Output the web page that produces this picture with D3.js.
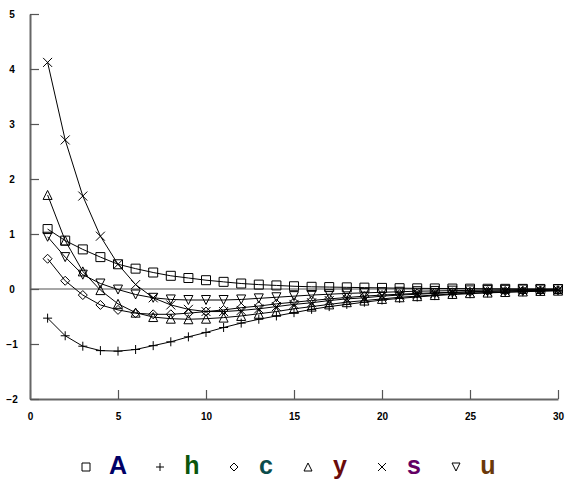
<!DOCTYPE html>
<html><head><meta charset="utf-8">
<script src="https://cdn.jsdelivr.net/npm/d3@7"></script>
<style>body{margin:0;background:#fff}svg{display:block}</style>
</head><body>
<script>
const xs = d3.range(1, 31);
const seriesNames = ["A", "h", "c", "y", "s", "u"];
const seriesSymbols = ["square", "plus", "diamond", "triangle", "cross", "tridown"];
const seriesColors = ["#000066", "#0b560b", "#0b4c4c", "#6a0a0a", "#640064", "#6a380a"];
const valsA = [1.09,0.88,0.72,0.58,0.45,0.37,0.30,0.24,0.20,0.16,0.13,0.10,0.08,0.065,0.05,0.04,0.035,0.03,0.025,0.02,0.015,0.012,0.01,0.008,0.006,0.004,0.003,0.002,0.001,0];
const valsH = [-0.53,-0.85,-1.04,-1.12,-1.13,-1.10,-1.03,-0.96,-0.87,-0.79,-0.70,-0.62,-0.55,-0.49,-0.43,-0.37,-0.32,-0.28,-0.24,-0.20,-0.17,-0.145,-0.12,-0.10,-0.085,-0.07,-0.06,-0.05,-0.04,-0.03];
const valsC = [0.55,0.15,-0.11,-0.29,-0.38,-0.44,-0.46,-0.46,-0.44,-0.41,-0.38,-0.34,-0.31,-0.27,-0.24,-0.21,-0.18,-0.155,-0.13,-0.11,-0.095,-0.08,-0.07,-0.06,-0.05,-0.04,-0.035,-0.03,-0.025,-0.02];
const valsY = [1.71,0.88,0.32,-0.02,-0.27,-0.43,-0.51,-0.54,-0.55,-0.54,-0.52,-0.49,-0.45,-0.41,-0.36,-0.32,-0.28,-0.24,-0.21,-0.18,-0.15,-0.13,-0.11,-0.09,-0.075,-0.065,-0.055,-0.045,-0.035,-0.03];
const valsS = [4.12,2.71,1.69,0.96,0.45,0.08,-0.16,-0.29,-0.37,-0.41,-0.41,-0.39,-0.36,-0.32,-0.28,-0.25,-0.21,-0.18,-0.16,-0.13,-0.11,-0.095,-0.08,-0.065,-0.055,-0.045,-0.035,-0.03,-0.025,-0.02];
const valsU = [0.95,0.58,0.26,0.10,-0.01,-0.10,-0.16,-0.19,-0.20,-0.20,-0.20,-0.19,-0.17,-0.15,-0.13,-0.11,-0.095,-0.08,-0.07,-0.06,-0.05,-0.04,-0.035,-0.03,-0.025,-0.02,-0.015,-0.01,-0.01,-0.005];
const allVals = [valsA, valsH, valsC, valsY, valsS, valsU];
const xTicks = [0,5,10,15,20,25,30];
const yTicks = [-2,-1,0,1,2,3,4,5];

const W = 568, H = 485;
const svg = d3.select("body").append("svg").attr("width", W).attr("height", H);
const x = d3.scaleLinear().domain([0, 30]).range([30, 558]);
const y = d3.scaleLinear().domain([-2, 5]).range([399, 14]);

// zero line
svg.append("line").attr("x1", x(0)).attr("x2", x(30)).attr("y1", y(0)).attr("y2", y(0))
  .attr("stroke", "#8a8a8a").attr("stroke-width", 1.5);

// axes
const xAxis = svg.append("g").attr("transform", `translate(0,${y(-2)})`)
  .call(d3.axisBottom(x).tickValues(xTicks).tickFormat(d3.format("d")).tickSizeInner(-9).tickSizeOuter(0).tickPadding(14));
const yAxis = svg.append("g").attr("transform", `translate(${x(0)},0)`)
  .call(d3.axisLeft(y).tickValues(yTicks).tickFormat(d3.format("d")).tickSizeInner(-9).tickSizeOuter(0).tickPadding(15));
[xAxis, yAxis].forEach(g => {
  g.select(".domain").attr("stroke", "#666").attr("stroke-width", 2);
  g.selectAll(".tick line").attr("stroke", "#555").attr("stroke-width", 1.2);
  g.selectAll("text").attr("font-family", "Liberation Sans, Arial, sans-serif")
    .attr("font-weight", "bold").attr("font-size", 10).attr("fill", "#000");
});
yAxis.selectAll("text").attr("text-anchor", "middle").attr("dx", "-3");

function symPath(type, s) {
  const h = s / 2;
  switch (type) {
    case "square": return `M${-h},${-h}h${s}v${s}h${-s}Z`;
    case "plus": return `M${-h},0H${h}M0,${-h}V${h}`;
    case "diamond": return `M0,${-h}L${h},0L0,${h}L${-h},0Z`;
    case "triangle": return `M0,${-h}L${h},${h}L${-h},${h}Z`;
    case "cross": return `M${-h},${-h}L${h},${h}M${h},${-h}L${-h},${h}`;
    case "tridown": return `M${-h},${-h}L${h},${-h}L0,${h}Z`;
  }
}

const line = d3.line().x((d, i) => x(xs[i])).y(d => y(d));
allVals.forEach((vals, si) => {
  const g = svg.append("g");
  g.append("path").attr("d", line(vals)).attr("fill", "none").attr("stroke", "#000").attr("stroke-width", 1);
  g.selectAll("path.m").data(vals).enter().append("path").attr("class", "m")
    .attr("transform", (d, i) => `translate(${x(xs[i])},${y(d)})`)
    .attr("d", symPath(seriesSymbols[si], 9))
    .attr("fill", "none").attr("stroke", "#000").attr("stroke-width", 1);
});

// legend
const legX = d3.scaleLinear().domain([0, 5]).range([86, 456]);
seriesNames.forEach((name, i) => {
  const cx = legX(i);
  svg.append("path").attr("transform", `translate(${cx},${467})`)
    .attr("d", symPath(seriesSymbols[i], 8)).attr("fill", "none").attr("stroke", "#000").attr("stroke-width", 1);
  svg.append("text").attr("x", cx + 32).attr("y", 474).attr("text-anchor", "middle")
    .attr("font-family", "Liberation Sans, Arial, sans-serif").attr("font-weight", "bold")
    .attr("font-size", 25).attr("fill", seriesColors[i]).text(name);
});
</script>
</body></html>
